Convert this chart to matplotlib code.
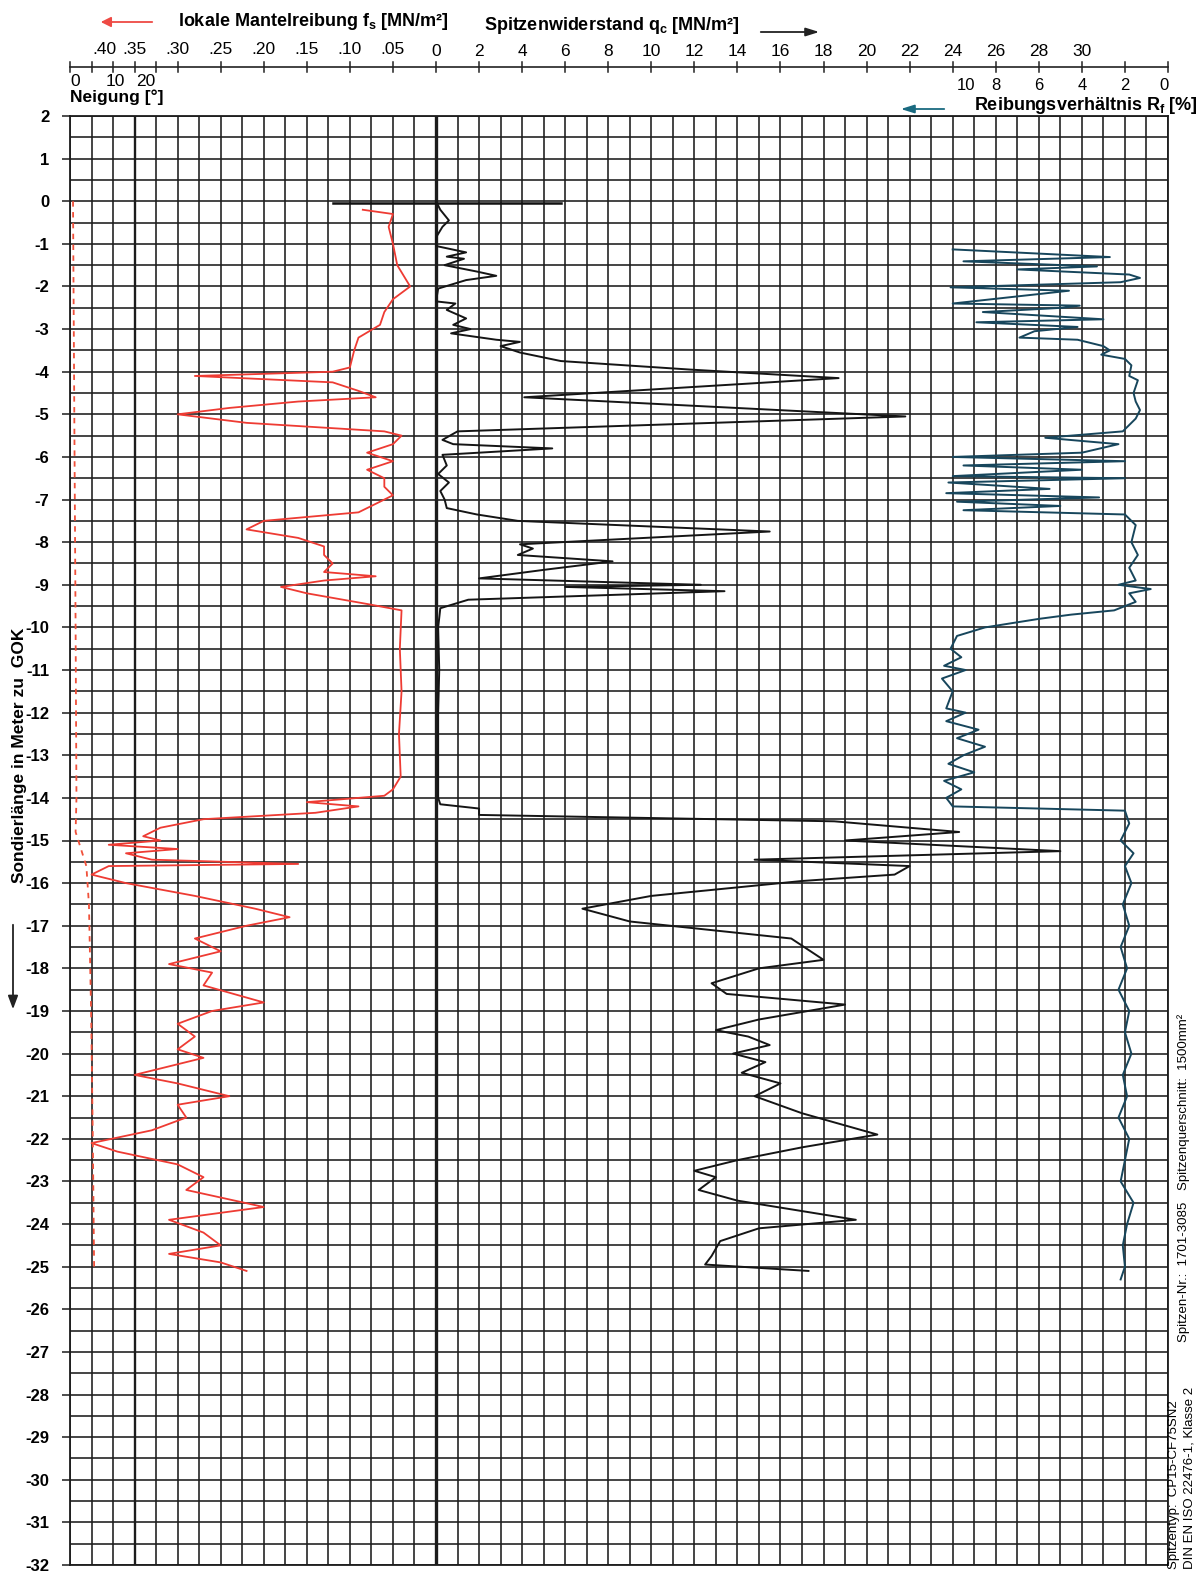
import matplotlib
matplotlib.use("Agg")
import matplotlib.pyplot as plt
import matplotlib.transforms as mtransforms
import numpy as np

plt.rcParams['font.family'] = ['Liberation Sans', 'DejaVu Sans']
plt.rcParams['mathtext.fontset'] = 'custom'
plt.rcParams['mathtext.rm'] = 'Liberation Sans'
plt.rcParams['mathtext.bf'] = 'Liberation Sans:bold'

W, H = 1204, 1571

# Spitzenwiderstand qc [MN/m2] over depth [m]
qc_depth = [0.0, -0.2, -0.45, -0.6, -0.85, -1.05, -1.2, -1.3, -1.35, -1.5, -1.65, -1.75, -1.85,
            -2.05, -2.35, -2.4, -2.55, -2.75, -2.9, -3.0, -3.1, -3.25, -3.3, -3.4, -3.55, -3.75,
            -3.95, -4.15, -4.6, -5.05, -5.4, -5.6, -5.7, -5.8, -5.95, -6.2, -6.4, -6.6, -6.8,
            -7.0, -7.2, -7.35, -7.5, -7.75, -8.05, -8.15, -8.3, -8.45, -8.65, -8.85, -9.0, -9.05,
            -9.15, -9.35, -9.55, -10.0, -11.0, -12.0, -13.0, -14.0, -14.15, -14.25, -14.4,
            -14.55, -14.8, -15.0, -15.25, -15.45, -15.6, -15.8, -15.95, -16.3, -16.6, -16.9,
            -17.3, -17.8, -18.0, -18.35, -18.6, -18.85, -19.2, -19.45, -19.6, -19.8, -20.0,
            -20.2, -20.45, -20.7, -21.0, -21.4, -21.9, -22.2, -22.5, -22.75, -22.9, -23.2,
            -23.45, -23.9, -24.1, -24.4, -24.75, -24.95, -25.1]
qc_val = [0.0, 0.2, 0.6, 0.3, 0.0, 0.0, 1.4, 0.5, 1.3, 0.4, 1.9, 2.8, 1.4,
          0.1, 0.0, 0.9, 0.5, 1.4, 0.8, 1.6, 0.7, 2.8, 3.9, 3.0, 3.9, 5.8,
          11.8, 18.7, 4.1, 21.8, 1.0, 0.3, 0.8, 5.4, 0.3, 0.5, 0.1, 0.6, 0.2,
          0.4, 0.5, 1.9, 3.8, 15.5, 3.9, 4.5, 3.8, 8.2, 5.0, 2.0, 12.3, 6.0,
          13.4, 1.5, 0.2, 0.1, 0.15, 0.1, 0.1, 0.1, 0.2, 2.0, 2.0,
          18.5, 24.3, 19.0, 29.0, 14.8, 22.0, 21.3, 17.0, 10.0, 6.8, 9.0,
          16.5, 18.0, 15.0, 12.8, 13.5, 19.0, 15.0, 13.0, 14.5, 15.5, 13.8,
          15.3, 14.2, 16.0, 14.8, 17.0, 20.5, 17.0, 14.0, 12.0, 13.0, 12.2,
          14.0, 19.5, 15.0, 13.2, 12.8, 12.5, 17.3]

# lokale Mantelreibung fs [MN/m2]
fs_depth = [-0.2, -0.3, -0.6, -1.0, -1.5, -2.0, -2.3, -2.6, -2.9, -3.2, -3.5, -3.9, -4.0,
            -4.1, -4.25, -4.45, -4.6, -4.7, -4.85, -5.0, -5.2, -5.4, -5.5, -5.7, -5.9, -6.1,
            -6.3, -6.5, -6.7, -6.9, -7.1, -7.3, -7.5, -7.7, -7.9, -8.1, -8.3, -8.5, -8.7,
            -8.8, -8.9, -9.05, -9.2, -9.45, -9.6, -10.5, -11.5, -12.5, -13.5, -13.8, -13.95,
            -14.1, -14.2, -14.35, -14.5, -14.7, -14.9, -15.0, -15.1, -15.2, -15.3, -15.45,
            -15.55, -15.6, -15.8, -16.0, -16.3, -16.6, -16.8, -17.0, -17.3, -17.6, -17.9,
            -18.1, -18.4, -18.8, -19.0, -19.3, -19.6, -19.9, -20.1, -20.5, -20.7, -21.0,
            -21.2, -21.5, -21.8, -22.1, -22.3, -22.6, -22.9, -23.2, -23.6, -23.9, -24.2,
            -24.5, -24.7, -24.9, -25.1]
fs_val = [0.085, 0.05, 0.055, 0.05, 0.045, 0.03, 0.05, 0.06, 0.065, 0.09, 0.095, 0.10, 0.12,
          0.28, 0.12, 0.09, 0.07, 0.16, 0.24, 0.30, 0.22, 0.06, 0.04, 0.05, 0.08, 0.05,
          0.08, 0.06, 0.06, 0.05, 0.07, 0.09, 0.20, 0.22, 0.16, 0.13, 0.13, 0.12, 0.13,
          0.07, 0.13, 0.18, 0.15, 0.08, 0.04, 0.042, 0.040, 0.043, 0.041, 0.05, 0.06,
          0.15, 0.09, 0.14, 0.27, 0.32, 0.34, 0.32, 0.38, 0.30, 0.36, 0.33,
          0.16, 0.38, 0.40, 0.36, 0.28, 0.21, 0.17, 0.22, 0.28, 0.25, 0.31,
          0.26, 0.27, 0.20, 0.26, 0.30, 0.28, 0.30, 0.27, 0.35, 0.30, 0.24,
          0.30, 0.29, 0.33, 0.40, 0.37, 0.30, 0.27, 0.29, 0.20, 0.31, 0.27,
          0.25, 0.31, 0.25, 0.22]

# Reibungsverhaeltnis Rf [%]
rf_depth = [-1.13, -1.31, -1.41, -1.53, -1.6, -1.72, -1.8, -1.9, -2.02, -2.1, -2.4, -2.45,
            -2.5, -2.6, -2.77, -2.84, -2.95, -3.05, -3.2, -3.25, -3.4, -3.5, -3.6, -3.7,
            -3.85, -4.1, -4.2, -4.5, -4.7, -4.9, -5.1, -5.4, -5.55, -5.7, -5.9, -6.0, -6.1,
            -6.2, -6.3, -6.45, -6.5, -6.6, -6.75, -6.85, -6.95, -7.05, -7.15, -7.25, -7.35,
            -7.6, -8.0, -8.3, -8.6, -8.9, -9.0, -9.1, -9.2, -9.4, -9.6, -9.7, -9.8, -10.0,
            -10.2, -10.5, -10.7, -10.9, -11.0, -11.2, -11.5, -11.9, -12.0, -12.2, -12.4,
            -12.6, -12.8, -13.0, -13.2, -13.4, -13.6, -13.8, -14.0, -14.2, -14.3, -14.6,
            -15.0, -15.3, -15.6, -16.0, -16.5, -17.0, -17.5, -18.0, -18.5, -19.0, -19.5,
            -20.0, -20.5, -21.0, -21.5, -22.0, -22.5, -23.0, -23.5, -24.0, -24.5, -25.0,
            -25.3]
rf_val = [10.0, 2.7, 9.5, 3.3, 7.0, 1.8, 1.3, 2.2, 10.1, 4.6, 10.0, 4.1,
          4.9, 8.6, 3.0, 8.9, 4.2, 6.2, 6.9, 4.2, 3.0, 2.7, 3.1, 2.0,
          1.7, 1.8, 1.4, 1.6, 1.5, 1.3, 1.5, 2.1, 5.7, 2.3, 4.0, 10.0, 2.0,
          9.5, 4.0, 10.0, 2.0, 10.2, 5.5, 10.3, 3.2, 9.8, 5.0, 9.5, 2.0,
          1.5, 1.7, 1.4, 1.8, 1.5, 2.3, 0.8, 1.8, 1.5, 2.5, 4.5, 6.0, 8.5,
          9.8, 10.1, 9.6, 10.4, 9.4, 10.5, 10.0, 10.3, 9.4, 10.3, 8.8,
          9.8, 8.5, 9.5, 10.2, 9.0, 10.4, 9.6, 10.3, 10.0, 2.0, 1.8,
          2.2, 1.6, 2.0, 1.7, 2.1, 1.8, 2.2, 1.9, 2.3, 1.8, 2.0,
          1.7, 2.1, 1.9, 2.3, 1.8, 2.0, 2.2, 1.6, 1.9, 2.1, 2.0,
          2.2]

# Neigung [deg]
nei_depth = [0.0, -5.0, -10.0, -14.0, -14.8, -15.6, -16.5, -19.0, -22.0, -25.0]
nei_val = [0.7, 1.0, 1.3, 1.5, 1.3, 3.8, 4.4, 4.9, 5.3, 5.6]

fs_ticks = [-16, -14, -12, -10, -8, -6, -4, -2]
fs_labels = ['.40', '.35', '.30', '.25', '.20', '.15', '.10', '.05']
qc_ticks = list(range(0, 31, 2))
rf_labels = ['10', '8', '6', '4', '2', '0']
nei_labels = ['0', '10', '20']

fig = plt.figure(figsize=(W / 100, H / 100), dpi=100)
left, right, top, bottom = 70, 1168, 116, 1565
ax = fig.add_axes([left / W, 1 - bottom / H, (right - left) / W, (bottom - top) / H])
ax.set_xlim(-17, 34)
ax.set_ylim(-32, 2)

grid_c = '#1c1c1c'
for x in range(-17, 35):
    lw = 1.15
    if x == 0:
        lw = 2.4
    elif x == -14:
        lw = 1.7
    ax.axvline(x, color=grid_c, lw=lw, zorder=1)
for y in np.arange(-32, 2.01, 0.5):
    ax.axhline(y, color=grid_c, lw=1.15, zorder=1)
for s in ax.spines.values():
    s.set_color(grid_c)
    s.set_linewidth(1.3)

ax.set_xticks([])
ax.set_yticks(range(-32, 3))
ax.set_yticklabels([str(v) for v in range(-32, 3)], fontsize=12, fontweight='bold')
ax.tick_params(axis='y', length=6, width=1.1, pad=9, color=grid_c)

# start line at ground level
ax.plot([-4.8, 5.8], [-0.05, -0.05], color='#111111', lw=1.8, zorder=3)

ax.plot(qc_val, qc_depth, color='#151515', lw=1.4, zorder=4)
ax.plot([-40 * v for v in fs_val], fs_depth, color='#ee3b33', lw=1.3, zorder=4)
ax.plot([34 - v for v in rf_val], rf_depth, color='#17465c', lw=1.4, zorder=4)
ax.plot([-17 + 0.2 * v for v in nei_val], nei_depth, color='#f0503a', lw=1.3,
        ls=(0, (3, 3)), zorder=4)

# header
bt = mtransforms.blended_transform_factory(ax.transData, fig.transFigure)


def fy(px):
    return 1 - px / H


ax.plot([-17, 34], [fy(67), fy(67)], color='#222222', lw=1.2, transform=bt, clip_on=False)
hticks = [-17, -16, -15, -14, -13, -12] + list(range(-10, 35, 2))
for t in hticks:
    ax.plot([t, t], [fy(62), fy(72)], color='#222222', lw=1.1, transform=bt, clip_on=False)

fs_lab_x = [-15.4, -14, -12, -10, -8, -6, -4, -2]
for x, s in zip(fs_lab_x, fs_labels):
    ax.text(x, fy(49), s, transform=bt, ha='center', va='center', fontsize=12.5)
for t in qc_ticks:
    ax.text(t, fy(51), str(t), transform=bt, ha='center', va='center', fontsize=12.5)

for x, s in zip([-16.75, -14.9, -13.5], nei_labels):
    ax.text(x, fy(82), s, transform=bt, ha='center', va='center', fontsize=12.5)
ax.text(-17, fy(97), 'Neigung [°]', transform=bt, ha='left', va='center',
        fontsize=12.5, fontweight='bold')

for x, s in zip([24.6, 26, 28, 30, 32, 33.8], rf_labels):
    ax.text(x, fy(85), s, transform=bt, ha='center', va='center', fontsize=12)
fig.text(1198 / W, fy(105), r'Reibungsverhältnis R$_\mathbf{f}$ [%]', ha='right',
         va='center', fontsize=13, fontweight='bold')

fig.text(178 / W, fy(22), r'lokale Mantelreibung f$_\mathbf{s}$ [MN/m²]', ha='left',
         va='center', fontsize=13, fontweight='bold')
fig.text(484 / W, fy(25), r'Spitzenwiderstand q$_\mathbf{c}$ [MN/m²]', ha='left',
         va='center', fontsize=13, fontweight='bold')

fig.patches.append(matplotlib.patches.FancyArrowPatch(
    (155 / W, fy(22)), (98 / W, fy(22)), transform=fig.transFigure,
    arrowstyle='-|>,head_length=6,head_width=3', color='#ee4a44', lw=1.3))
fig.patches.append(matplotlib.patches.FancyArrowPatch(
    (758 / W, fy(32)), (822 / W, fy(32)), transform=fig.transFigure,
    arrowstyle='-|>,head_length=8,head_width=2.5', color='#222222', lw=1.3))
fig.patches.append(matplotlib.patches.FancyArrowPatch(
    (947 / W, fy(109)), (898 / W, fy(109)), transform=fig.transFigure,
    arrowstyle='-|>,head_length=8,head_width=2.5', color='#1a6a80', lw=1.3))

# y label + arrow
fig.text(20 / W, fy(755), 'Sondierlänge in Meter zu  GOK', rotation=90, ha='center',
         va='center', fontsize=12.5, fontweight='bold')
fig.patches.append(matplotlib.patches.FancyArrowPatch(
    (13 / W, fy(922)), (13 / W, fy(1012)), transform=fig.transFigure,
    arrowstyle='-|>,head_length=8,head_width=3', color='#222222', lw=1.3))

# probe info
fig.text(1184 / W, fy(1102), 'Spitzenquerschnitt:  1500mm²', rotation=90, ha='center',
         va='center', fontsize=9.5)
fig.text(1184 / W, fy(1272), 'Spitzen-Nr.:  1701-3085', rotation=90, ha='center',
         va='center', fontsize=9.5)
fig.text(1174 / W, fy(1569), 'Spitzentyp:  CP15-CF75SN2', rotation=90, ha='center',
         va='bottom', fontsize=9.5)
fig.text(1190 / W, fy(1569), 'DIN EN ISO 22476-1, Klasse 2', rotation=90, ha='center',
         va='bottom', fontsize=9.5)

fig.savefig('out.png', dpi=100)
